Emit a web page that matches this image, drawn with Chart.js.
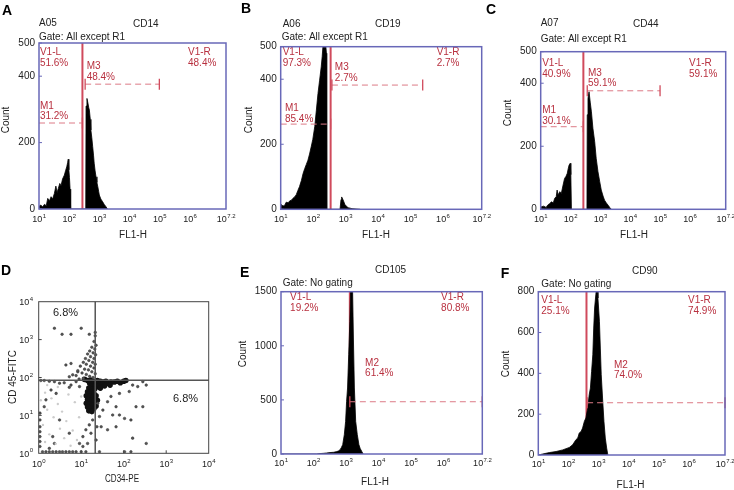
<!DOCTYPE html>
<html>
<head>
<meta charset="utf-8">
<script src="https://cdn.jsdelivr.net/npm/chart.js@4.4.1/dist/chart.umd.min.js"></script>
<style>
  html, body { margin: 0; padding: 0; background: #fff; }
  body { width: 734px; height: 490px; position: relative; overflow: hidden; }
  canvas { position: absolute; }
</style>
</head>
<body>
<canvas id="pA" width="238" height="245" style="left:0px;top:0px"></canvas>
<canvas id="pB" width="256" height="245" style="left:238px;top:0px"></canvas>
<canvas id="pC" width="250" height="245" style="left:484px;top:0px"></canvas>
<canvas id="pD" width="238" height="240" style="left:0px;top:250px"></canvas>
<canvas id="pE" width="262" height="240" style="left:238px;top:250px"></canvas>
<canvas id="pF" width="244" height="240" style="left:490px;top:250px"></canvas>
<script>
// x positions are log10(FL1-H), ticks drawn as 10^n
const xTickExps = [1, 2, 3, 4, 5, 6, 7.2];

// A - CD14
const histA_exp = [1.00, 1.06, 1.12, 1.18, 1.24, 1.29, 1.35, 1.40, 1.45, 1.51, 1.56, 1.60, 1.64, 1.69, 1.73, 1.78, 1.84, 1.88, 1.92, 1.95, 1.97, 1.99, 2.01, 2.03, 2.05,
  2.55, 2.56, 2.59, 2.62, 2.65, 2.67, 2.70, 2.72, 2.75, 2.78, 2.81, 2.83, 2.86, 2.89, 2.92, 2.95, 2.98, 3.00, 3.05, 3.11, 3.16, 3.22, 3.27];
const histA_cnt = [8, 12, 6, 14, 10, 32, 25, 37, 30, 47, 69, 50, 62, 77, 70, 90, 102, 115, 127, 140, 150, 118, 95, 60, 0,
  0, 310, 333, 320, 305, 298, 270, 238, 215, 188, 160, 138, 115, 97, 80, 67, 52, 42, 30, 22, 14, 7, 0];
const gatesA = [{ from: 1, to: 2.44, count: 259, bars: [0, 1] }, { from: 2.53, to: 4.99, count: 376, bars: [1, 1] }];
const labelsA = [['V1-L', '51.6%', 1.03, 434], ['V1-R', '48.4%', 5.94, 434], ['M1', '31.2%', 1.03, 274], ['M3', '48.4%', 2.58, 392]];

// B - CD19
const histB_exp = [1.00, 1.02, 1.07, 1.12, 1.17, 1.23, 1.28, 1.33, 1.38, 1.43, 1.48, 1.53, 1.58, 1.64, 1.69, 1.74, 1.79, 1.84, 1.89, 1.94, 1.99, 2.05, 2.10, 2.15, 2.20, 2.25, 2.28, 2.31, 2.34, 2.36, 2.39, 2.41, 2.42,
  2.83, 2.86, 2.88, 2.92, 2.98, 3.03, 3.08, 3.20, 3.45];
const histB_cnt = [0, 15, 10, 12, 22, 20, 26, 28, 34, 38, 45, 58, 70, 89, 110, 125, 138, 151, 170, 192, 215, 254, 305, 356, 397, 438, 470, 510, 520, 510, 505, 480, 0,
  0, 30, 38, 30, 15, 9, 5, 2, 0];
const gatesB = [{ from: 1, to: 2.54, count: 262, bars: [0, 1] }, { from: 2.58, to: 5.38, count: 382, bars: [1, 1] }];
const labelsB = [['V1-L', '97.3%', 1.06, 444], ['V1-R', '2.7%', 5.81, 444], ['M1', '85.4%', 1.13, 272], ['M3', '2.7%', 2.67, 398]];

// C - CD44
const histC_exp = [1.00, 1.02, 1.10, 1.18, 1.24, 1.30, 1.36, 1.42, 1.47, 1.52, 1.55, 1.58, 1.64, 1.69, 1.75, 1.80, 1.85, 1.89, 1.92, 1.95, 1.99, 2.01, 2.03,
  2.55, 2.56, 2.585, 2.62, 2.66, 2.70, 2.75, 2.81, 2.86, 2.92, 2.98, 3.03, 3.09, 3.14, 3.20, 3.26, 3.32, 3.37];
const histC_cnt = [0, 8, 10, 6, 14, 18, 24, 20, 35, 40, 61, 45, 56, 50, 77, 98, 105, 114, 128, 140, 146, 110, 0,
  0, 300, 352, 373, 340, 309, 257, 214, 162, 119, 87, 61, 42, 29, 20, 13, 5, 0];
const gatesC = [{ from: 1, to: 2.43, count: 262, bars: [0, 1] }, { from: 2.56, to: 5.0, count: 376, bars: [1, 1] }];
const labelsC = [['V1-L', '40.9%', 1.05, 423], ['V1-R', '59.1%', 5.97, 423], ['M1', '30.1%', 1.05, 274], ['M3', '59.1%', 2.585, 394]];

// D - CD34-PE vs CD45-FITC (log10 of each channel)
const dDim = [[0.15, 1.60], [0.30, 1.45], [0.45, 1.30], [0.20, 1.15], [0.55, 1.10], [0.35, 0.95], [0.65, 0.85], [0.10, 0.75], [0.50, 0.65], [0.80, 0.60],
  [0.25, 0.50], [0.60, 0.40], [0.90, 0.35], [0.40, 0.25], [0.75, 0.20], [0.15, 0.30], [0.95, 0.95], [0.85, 1.35], [0.70, 1.55], [1.00, 1.50],
  [0.05, 1.40], [0.45, 1.75], [0.20, 1.80]];
const dSparse = [[0.37, 3.30], [0.55, 3.14], [0.76, 3.14], [1.00, 3.30], [1.19, 3.14], [1.33, 3.19], [0.76, 2.37], [0.64, 2.33], [0.92, 2.15], [0.80, 2.07], [0.72, 2.02],
  [1.33, 3.10], [1.30, 2.95], [1.35, 2.85], [1.25, 2.80], [1.32, 2.75], [1.20, 2.70], [1.28, 2.65], [1.15, 2.62], [1.34, 2.60], [1.22, 2.55], [1.10, 2.50],
  [1.30, 2.50], [1.18, 2.45], [1.05, 2.40], [1.27, 2.40], [1.33, 2.35], [1.12, 2.35], [0.98, 2.30], [1.22, 2.30], [1.30, 2.25], [1.08, 2.22], [1.17, 2.20],
  [0.92, 2.18], [1.25, 2.15], [1.02, 2.12], [1.33, 2.10], [1.12, 2.08], [0.88, 2.05], [1.20, 2.03], [1.28, 2.00], [1.05, 1.98], [0.95, 1.96],
  [0.05, 1.92], [0.13, 1.92], [0.25, 1.90], [0.37, 1.89], [0.49, 1.85], [0.60, 1.86], [0.72, 1.74], [0.76, 1.80], [0.88, 1.89], [0.96, 1.76],
  [2.21, 1.80], [2.33, 1.76], [2.45, 1.89], [2.53, 1.80], [2.13, 1.63], [1.90, 1.58], [2.29, 1.23], [2.45, 1.23], [1.82, 1.23], [1.74, 1.01],
  [1.90, 1.01], [1.62, 1.36], [1.70, 1.50], [1.47, 0.70], [1.62, 0.62], [1.82, 0.70], [2.21, 0.40], [2.53, 0.26], [2.02, 0.92], [2.17, 0.88],
  [1.51, 1.14], [1.39, 1.32], [1.43, 0.97], [1.27, 0.88], [1.19, 0.75], [1.11, 0.62], [1.23, 0.53], [1.04, 0.44], [1.15, 0.26], [1.04, 0.18],
  [1.43, 0.04], [2.02, 0.04], [2.17, 0.04], [1.37, 0.70], [1.35, 0.35],
  [0.03, 1.06], [0.03, 0.88], [0.03, 0.70], [0.03, 0.57], [0.03, 0.44], [0.03, 0.31], [0.03, 0.18],
  [0.09, 0.04], [0.17, 0.04], [0.25, 0.04], [0.33, 0.04], [0.41, 0.04], [0.49, 0.04], [0.56, 0.04], [0.64, 0.04], [0.72, 0.04], [0.80, 0.04],
  [0.88, 0.04], [1.00, 0.04], [1.11, 0.04],
  [0.33, 0.44], [0.37, 0.26], [0.25, 0.13], [0.72, 0.53], [0.96, 0.26], [0.17, 1.41], [0.29, 1.67], [0.41, 1.58], [0.13, 1.23], [0.49, 0.88]];
const dCore = [[1.08, 1.95], [1.15, 1.92], [1.22, 1.93], [1.30, 1.90], [1.38, 1.92], [1.45, 1.90], [1.52, 1.88], [1.58, 1.90], [1.20, 1.85], [1.28, 1.84],
  [1.35, 1.86], [1.42, 1.83], [1.50, 1.82], [1.62, 1.85], [1.70, 1.88], [1.25, 1.78], [1.33, 1.78], [1.40, 1.76], [1.55, 1.78], [1.68, 1.80],
  [1.78, 1.88], [1.85, 1.90], [1.92, 1.86], [2.00, 1.90], [2.05, 1.92], [1.18, 1.72], [1.25, 1.68], [1.32, 1.70], [1.45, 1.72],
  [1.15, 1.62], [1.22, 1.60], [1.30, 1.58], [1.12, 1.52], [1.20, 1.50], [1.28, 1.48], [1.35, 1.52], [1.15, 1.42], [1.22, 1.40], [1.30, 1.38],
  [1.12, 1.32], [1.20, 1.30], [1.27, 1.28], [1.15, 1.22], [1.23, 1.20], [1.30, 1.18], [1.18, 1.12], [1.25, 1.10], [1.35, 1.25], [1.38, 1.40]];
const dQuadX = 1.33, dQuadY = 1.93;
const dDecades = [0, 1, 2, 3, 4];

// E - CD105
const histE_exp = [1.00, 2.10, 2.20, 2.30, 2.40, 2.51, 2.62, 2.72, 2.78, 2.82, 2.86, 2.90, 2.95, 2.99, 3.02, 3.05, 3.085, 3.12, 3.15, 3.20, 3.23, 3.26, 3.30, 3.35, 3.40, 3.44, 3.485, 3.53];
const histE_cnt = [0, 0, 4, 6, 9, 13, 16, 22, 30, 40, 60, 86, 178, 302, 486, 610, 917, 1226, 1600, 1600, 1072, 610, 302, 178, 86, 50, 25, 0];
const gatesE = [{ from: 3.12, to: 7.2, count: 483, bars: [1, 1] }];
const labelsE = [['V1-L', '19.2%', 1.28, 1331], ['V1-R', '80.8%', 5.93, 1331], ['M2', '61.4%', 3.59, 730]];

// F - CD90
const histF_exp = [1.00, 1.15, 1.37, 1.59, 1.81, 2.03, 2.14, 2.25, 2.31, 2.36, 2.42, 2.47, 2.53, 2.58, 2.64, 2.69, 2.73, 2.77, 2.81, 2.84, 2.87, 2.91, 2.94, 2.96, 2.98, 3.03, 3.06, 3.09, 3.14, 3.18, 3.225, 3.27, 3.31];
const histF_cnt = [0, 5, 12, 17, 25, 37, 50, 75, 83, 108, 115, 132, 165, 181, 230, 295, 328, 410, 491, 622, 720, 785, 830, 830, 769, 655, 524, 393, 263, 165, 83, 34, 0];
const gatesF = [{ from: 2.62, to: 7.2, count: 256, bars: [1, 1] }];
const labelsF = [['V1-L', '25.1%', 1.10, 696], ['V1-R', '74.9%', 5.97, 696], ['M2', '74.0%', 3.51, 382]];

const FONT = "'Liberation Sans', Arial, sans-serif";
const INK = '#222';
const RED_TXT = '#b8303f', RED_LINE = '#d04a5c', RED_DASH = '#dc7a86', BLUE = '#6868b8';

function text(ctx, s, x, y, o = {}) {
  ctx.save();
  ctx.font = (o.bold ? 'bold ' : '') + (o.size || 10) + 'px ' + FONT;
  ctx.fillStyle = o.color || INK;
  ctx.textAlign = o.align || 'left';
  ctx.textBaseline = 'alphabetic';
  if (o.rotate) {
    ctx.translate(x, y);
    ctx.rotate(-Math.PI / 2);
    ctx.textAlign = 'center';
    ctx.textBaseline = 'middle';
    ctx.fillText(s, 0, 0);
  } else if (o.maxWidth) {
    ctx.fillText(s, x, y, o.maxWidth);
  } else {
    ctx.fillText(s, x, y);
  }
  ctx.restore();
}

// "10" with a raised exponent
function powLabel(ctx, sup, x, y, align) {
  ctx.save();
  ctx.fillStyle = INK;
  ctx.textAlign = 'left';
  ctx.font = '9px ' + FONT;
  const w1 = ctx.measureText('10').width;
  ctx.font = '6px ' + FONT;
  const w2 = ctx.measureText(sup).width;
  const start = align === 'right' ? x - w1 - w2 : x - (w1 + w2) / 2;
  ctx.font = '9px ' + FONT;
  ctx.fillText('10', start, y);
  ctx.font = '6px ' + FONT;
  ctx.fillText(sup, start + w1 + 0.3, y - 4.5);
  ctx.restore();
}

function histPanel(id, p) {
  const decor = {
    id: 'decor',
    beforeDatasetsDraw(chart) {
      const { ctx, chartArea: a, scales: { x } } = chart;
      const vx = x.getPixelForValue(p.v1);
      ctx.save();
      ctx.strokeStyle = RED_LINE;
      ctx.lineWidth = 2;
      ctx.beginPath(); ctx.moveTo(vx, a.top); ctx.lineTo(vx, a.bottom); ctx.stroke();
      ctx.restore();
    },
    afterDatasetsDraw(chart) {
      const { ctx, chartArea: a, scales: { x, y } } = chart;
      ctx.save();
      // gate markers
      p.gates.forEach(g => {
        const gy = y.getPixelForValue(g.count);
        const x0 = x.getPixelForValue(g.from), x1 = x.getPixelForValue(g.to);
        ctx.strokeStyle = RED_DASH;
        ctx.lineWidth = 1;
        ctx.setLineDash([6, 4]);
        ctx.beginPath(); ctx.moveTo(x0, gy); ctx.lineTo(x1, gy); ctx.stroke();
        ctx.setLineDash([]);
        ctx.strokeStyle = RED_LINE;
        ctx.lineWidth = 1.3;
        [x0, x1].forEach((bx, i) => {
          if (!g.bars[i]) return;
          ctx.beginPath(); ctx.moveTo(bx, gy - 5.5); ctx.lineTo(bx, gy + 5.5); ctx.stroke();
        });
      });
      // gate names and percentages
      p.labels.forEach(([l1, l2, lx, ly]) => {
        const px = x.getPixelForValue(lx), py = y.getPixelForValue(ly) + 1;
        text(ctx, l1, px, py - 10.5, { color: RED_TXT });
        text(ctx, l2, px, py, { color: RED_TXT });
      });
      // frame and small inner ticks
      ctx.strokeStyle = BLUE;
      ctx.lineWidth = 1.5;
      ctx.strokeRect(a.left, a.top, a.right - a.left, a.bottom - a.top);
      ctx.lineWidth = 1;
      p.yTicks.forEach(v => {
        const ty = y.getPixelForValue(v);
        ctx.beginPath(); ctx.moveTo(a.left, ty); ctx.lineTo(a.left + 3, ty); ctx.stroke();
      });
      ctx.restore();
      xTickExps.forEach(e => powLabel(ctx, String(e), x.getPixelForValue(e), p.xLabelBase));
      p.texts.forEach(t => text(ctx, t.t, t.x, t.y, t));
      text(ctx, 'Count', p.count[0], p.count[1], { rotate: true });
      text(ctx, 'FL1-H', p.fl1[0], p.fl1[1], { align: 'center' });
    }
  };

  new Chart(document.getElementById(id), {
    type: 'line',
    data: {
      datasets: [{
        data: p.exps.map((e, i) => ({ x: e, y: p.counts[i] })),
        fill: 'origin',
        backgroundColor: '#000',
        borderColor: '#000',
        borderWidth: 0.8,
        pointRadius: 0,
        tension: 0
      }]
    },
    options: {
      responsive: false,
      animation: false,
      events: [],
      layout: { padding: p.pad },
      plugins: { legend: { display: false }, tooltip: { enabled: false } },
      scales: {
        x: { type: 'linear', min: 1, max: 7.2, display: false },
        y: {
          min: 0, max: p.yMax,
          grid: { display: false, drawTicks: false },
          border: { display: false },
          afterBuildTicks: s => { s.ticks = p.yTicks.map(v => ({ value: v })); },
          afterFit: s => { s.width = 36; },
          ticks: { color: INK, padding: 4, font: { size: 10, family: FONT }, callback: v => String(v) }
        }
      }
    },
    plugins: [decor]
  });
}

histPanel('pA', {
  exps: histA_exp, counts: histA_cnt, gates: gatesA, labels: labelsA, v1: 2.44,
  yMax: 500, yTicks: [0, 200, 400, 500],
  pad: { left: 3, top: 43, right: 12, bottom: 36 },
  xLabelBase: 222, count: [6, 120], fl1: [133, 238],
  texts: [{ t: 'A', x: 2, y: 15, bold: true, size: 14, color: '#000' }, { t: 'A05', x: 39, y: 26 }, { t: 'CD14', x: 133, y: 27 },
    { t: 'Gate: All except R1', x: 39, y: 40 }]
});

histPanel('pB', {
  exps: histB_exp, counts: histB_cnt, gates: gatesB, labels: labelsB, v1: 2.54,
  yMax: 500, yTicks: [0, 200, 400, 500],
  pad: { left: 6.7, top: 46.7, right: 12.3, bottom: 35.7 },
  xLabelBase: 222, count: [11, 120], fl1: [138, 238],
  texts: [{ t: 'B', x: 3, y: 13, bold: true, size: 14, color: '#000' }, { t: 'A06', x: 44.7, y: 27 }, { t: 'CD19', x: 137, y: 27 },
    { t: 'Gate: All except R1', x: 43.7, y: 40 }]
});

histPanel('pC', {
  exps: histC_exp, counts: histC_cnt, gates: gatesC, labels: labelsC, v1: 2.43,
  yMax: 500, yTicks: [0, 200, 400, 500],
  pad: { left: 20.7, top: 51.7, right: 8.3, bottom: 35.7 },
  xLabelBase: 222, count: [24, 113], fl1: [150, 238],
  texts: [{ t: 'C', x: 2, y: 14, bold: true, size: 14, color: '#000' }, { t: 'A07', x: 56.7, y: 26 }, { t: 'CD44', x: 149, y: 27 },
    { t: 'Gate: All except R1', x: 56.7, y: 41.5 }]
});

histPanel('pE', {
  exps: histE_exp, counts: histE_cnt, gates: gatesE, labels: labelsE, v1: 3.12,
  yMax: 1500, yTicks: [0, 500, 1000, 1500],
  pad: { left: 7, top: 41.7, right: 17.7, bottom: 36 },
  xLabelBase: 216, count: [5, 104], fl1: [137, 235],
  texts: [{ t: 'E', x: 2, y: 27, bold: true, size: 14, color: '#000' }, { t: 'CD105', x: 137, y: 23 },
    { t: 'Gate: No gating', x: 44.7, y: 36 }]
});

histPanel('pF', {
  exps: histF_exp, counts: histF_cnt, gates: gatesF, labels: labelsF, v1: 2.60,
  yMax: 800, yTicks: [0, 200, 400, 600, 800],
  pad: { left: 12.3, top: 41.7, right: 9, bottom: 35 },
  xLabelBase: 217, count: [16, 114], fl1: [140.5, 238],
  texts: [{ t: 'F', x: 10.7, y: 28, bold: true, size: 14, color: '#000' }, { t: 'CD90', x: 142, y: 24 },
    { t: 'Gate: No gating', x: 51.3, y: 36.7 }]
});

// D - dot plot
const quadDecor = {
  id: 'quad',
  afterDatasetsDraw(chart) {
    const { ctx, chartArea: a, scales: { x, y } } = chart;
    ctx.save();
    ctx.strokeStyle = '#555';
    ctx.lineWidth = 1.5;
    const qx = x.getPixelForValue(dQuadX), qy = y.getPixelForValue(dQuadY);
    ctx.beginPath();
    ctx.moveTo(qx, a.top); ctx.lineTo(qx, a.bottom);
    ctx.moveTo(a.left, qy); ctx.lineTo(a.right, qy);
    ctx.stroke();
    ctx.strokeStyle = '#444';
    ctx.lineWidth = 1;
    ctx.strokeRect(a.left, a.top, a.right - a.left, a.bottom - a.top);
    dDecades.slice(1, 4).forEach(d => {
      const tx = x.getPixelForValue(d), ty = y.getPixelForValue(d);
      ctx.beginPath();
      ctx.moveTo(tx, a.bottom); ctx.lineTo(tx, a.bottom - 3);
      ctx.moveTo(a.left, ty); ctx.lineTo(a.left + 3, ty);
      ctx.stroke();
    });
    ctx.restore();
    dDecades.forEach(d => {
      powLabel(ctx, String(d), x.getPixelForValue(d), 217);
      powLabel(ctx, String(d), a.left - 6, y.getPixelForValue(d) + 3.5, 'right');
    });
    text(ctx, 'D', 1, 25, { bold: true, size: 14, color: '#000' });
    text(ctx, 'CD 45-FITC', 13, 127, { rotate: true });
    text(ctx, 'CD34-PE', 122, 232, { align: 'center', maxWidth: 34 });
    text(ctx, '6.8%', 53, 66, { size: 11 });
    text(ctx, '6.8%', 173, 152, { size: 11 });
  }
};

new Chart(document.getElementById('pD'), {
  type: 'scatter',
  data: {
    datasets: [
      { data: dDim.map(([a, b]) => ({ x: a, y: b })), pointRadius: 1.2, backgroundColor: '#cccccc', borderWidth: 0 },
      { data: dSparse.map(([a, b]) => ({ x: a, y: b })), pointRadius: 1.3, backgroundColor: '#555', borderColor: '#333', borderWidth: 0.5 },
      { data: dCore.map(([a, b]) => ({ x: a, y: b })), pointRadius: 2.8, backgroundColor: '#111', borderWidth: 0 }
    ]
  },
  options: {
    responsive: false,
    animation: false,
    events: [],
    layout: { padding: { left: 38.7, top: 51.7, right: 29.3, bottom: 36.7 } },
    plugins: { legend: { display: false }, tooltip: { enabled: false } },
    scales: {
      x: { type: 'linear', min: 0, max: 4, display: false },
      y: { type: 'linear', min: 0, max: 4, display: false }
    }
  },
  plugins: [quadDecor]
});
</script>
</body>
</html>
